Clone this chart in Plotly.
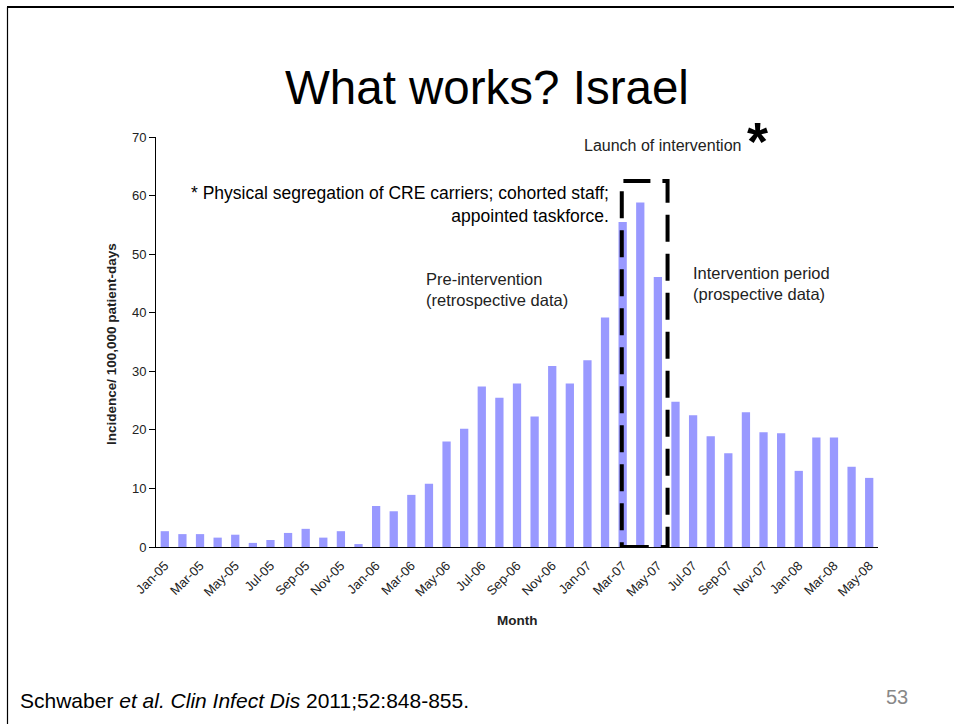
import plotly.graph_objects as go

# Monthly CRE incidence per 100,000 patient-days
months = [
    "Jan-05", "Feb-05", "Mar-05", "Apr-05", "May-05", "Jun-05", "Jul-05", "Aug-05",
    "Sep-05", "Oct-05", "Nov-05", "Dec-05",
    "Jan-06", "Feb-06", "Mar-06", "Apr-06", "May-06", "Jun-06", "Jul-06", "Aug-06",
    "Sep-06", "Oct-06", "Nov-06", "Dec-06",
    "Jan-07", "Feb-07", "Mar-07", "Apr-07", "May-07", "Jun-07", "Jul-07", "Aug-07",
    "Sep-07", "Oct-07", "Nov-07", "Dec-07",
    "Jan-08", "Feb-08", "Mar-08", "Apr-08", "May-08",
]
incidence = [
    2.7, 2.2, 2.2, 1.6, 2.1, 0.7, 1.2, 2.4, 3.1, 1.6, 2.7, 0.5,
    7.0, 6.1, 8.9, 10.8, 18.0, 20.2, 27.4, 25.5, 27.9, 22.3, 30.9, 27.9,
    31.9, 39.2, 55.5, 58.8, 46.1, 24.8, 22.5, 18.9, 16.0, 23.0, 19.6, 19.4,
    13.0, 18.7, 18.7, 13.7, 11.8,
]
y_ticks = [0, 10, 20, 30, 40, 50, 60, 70]
launch_start, launch_end = "Mar-07", "May-07"
box_top = 62.5

W, H = 954, 724
L, R, T, B = 156, 878, 137, 547  # plot area in pixels

SANS = "Liberation Sans, Arial, sans-serif"


def px(x):
    return (x - L) / (R - L)


def py(y):
    return (B - y) / (B - T)


n = len(months)
fig = go.Figure()
fig.add_trace(go.Bar(
    x=months, y=incidence,
    marker=dict(color="#9999FF", line=dict(width=0)),
    xaxis="x", yaxis="y", showlegend=False, hoverinfo="x+y",
))

fig.update_layout(
    width=W, height=H,
    margin=dict(l=L, r=W - R, t=T, b=H - B, pad=0),
    paper_bgcolor="white", plot_bgcolor="white",
    bargap=0.53,
    font=dict(family=SANS, color="#222222"),
    xaxis=dict(
        type="category", range=[-0.5, n - 0.5],
        tickmode="array", tickvals=months[::2], ticktext=months[::2],
        tickangle=-45, ticks="outside", ticklen=5, tickcolor="rgba(0,0,0,0)",
        tickfont=dict(size=13, family=SANS, color="#222222"),
        showline=True, linecolor="black", linewidth=1,
        showgrid=False, zeroline=False, fixedrange=True,
    ),
    xaxis2=dict(
        overlaying="x", matches="x", type="linear", range=[-0.5, n - 0.5],
        tickmode="array", tickvals=[i - 0.5 for i in range(0, n, 2)],
        ticks="outside", ticklen=5, tickcolor="black", tickwidth=1,
        showticklabels=False, showline=False, showgrid=False, zeroline=False,
    ),
    yaxis=dict(
        range=[0, 70], tickmode="array", tickvals=y_ticks,
        ticks="outside", ticklen=6, tickcolor="black",
        tickfont=dict(size=13, family=SANS, color="#222222"),
        showline=True, linecolor="black", linewidth=1,
        showgrid=False, zeroline=False, fixedrange=True,
    ),
)

# Highlight box around the launch of the intervention
i0, i1 = months.index(launch_start), months.index(launch_end)
fig.add_shape(
    type="rect", xref="x", yref="y",
    x0=i0 - 0.05, x1=i1 + 0.55, y0=0, y1=box_top,
    line=dict(color="black", width=4, dash="27px,12px"),
    fillcolor="rgba(0,0,0,0)",
)

# Slide frame (top and left edges)
fig.add_shape(type="line", xref="paper", yref="paper",
              x0=px(7), x1=px(W + 5), y0=py(7), y1=py(7),
              line=dict(color="black", width=2))
fig.add_shape(type="line", xref="paper", yref="paper",
              x0=px(7.5), x1=px(7.5), y0=py(7), y1=py(H + 5),
              line=dict(color="black", width=1.2))


def note(text, x, y, size, xanchor="center", yanchor="middle", family=SANS,
         color="#222222", align="left", angle=0):
    fig.add_annotation(
        text=text, x=px(x), y=py(y), xref="paper", yref="paper",
        xanchor=xanchor, yanchor=yanchor, showarrow=False, align=align,
        textangle=angle, font=dict(size=size, family=family, color=color),
    )


note("What works? Israel", 487, 88, 47.5, color="black")
note("<b>Incidence/ 100,000 patient-days</b>", 111, 344, 13.5, angle=-90)
note("<b>Month</b>", 517, 620, 13.5)
note("Launch of intervention", 743, 145, 16, xanchor="right")
note("<b>*</b>", 757, 141, 54, color="black")
note("* Physical segregation of CRE carriers; cohorted staff;<br>appointed taskforce.",
     611, 204, 17.5, xanchor="right", color="black", align="right")
note("Pre-intervention<br>(retrospective data)", 424, 289, 16.5, xanchor="left")
note("Intervention period<br>(prospective data)", 691, 283, 16.5, xanchor="left")
note("Schwaber <i>et al.</i> <i>Clin Infect Dis</i> 2011;52:848-855.", 18, 700, 21,
     xanchor="left", color="black")
note("53", 897, 697, 20, color="#888888")

fig.write_html("out.html")
